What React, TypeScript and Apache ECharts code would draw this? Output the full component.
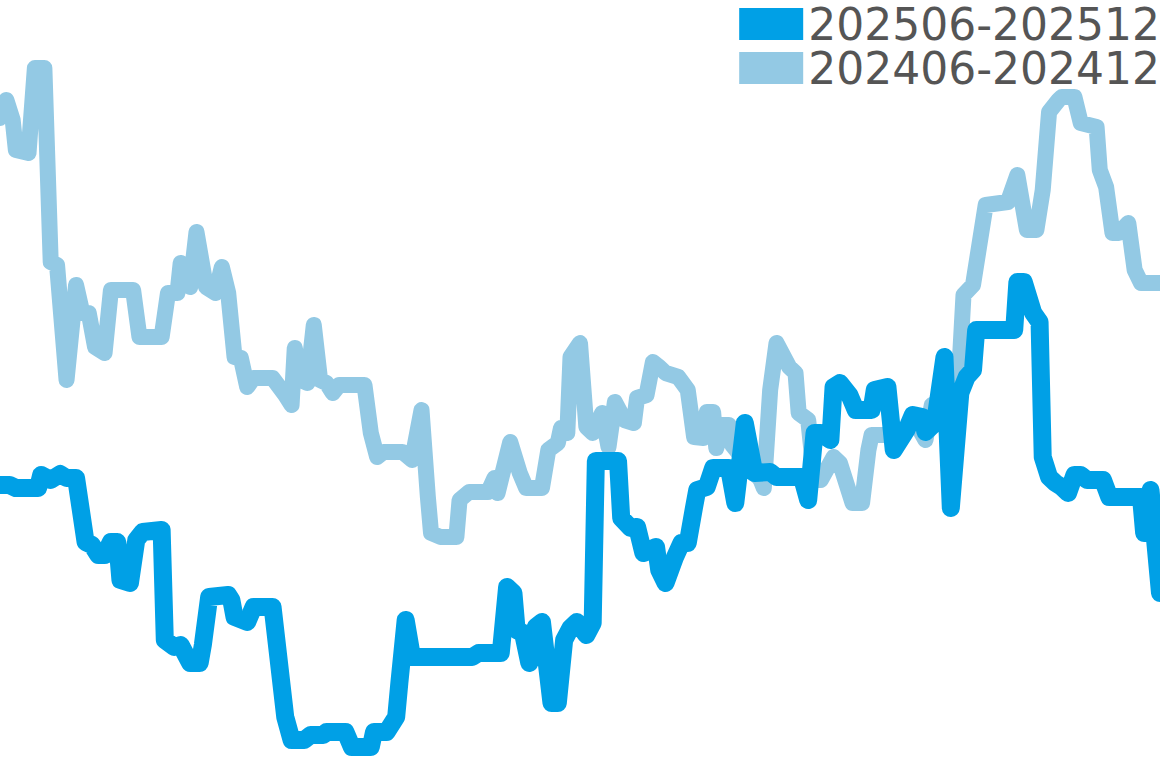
import React, { useEffect, useRef } from 'react';
import * as echarts from 'echarts';

// x = day position in the half-year window, y = index value
const series2025Name = '202506-202512';
const series2024Name = '202406-202412';

const days2025 = [
  0, 1.5, 2.5, 6, 6.5, 8, 9.5, 10.5, 12, 13.5, 14.5, 15.5, 16.5, 17.5, 18.5, 19, 20.5, 21.5, 22.5, 25.5,
  26, 27.5, 28.5, 30, 31.5, 32, 33, 36, 36.5, 37, 39, 40, 43, 45, 46, 48, 49, 51, 51.5, 54.5,
  55.5, 58.5, 59, 61, 62.5, 63, 64, 65, 74.5, 75.5, 79, 80, 81, 81.5, 82.5, 83.5, 84.5, 85.5, 87, 88,
  89, 90, 91, 92.5, 93.5, 94, 97.5, 98, 99.5, 100.5, 101.5, 103.5, 104, 105, 106.5, 107.5, 108.5, 109.5, 110, 111.5,
  112.5, 115, 116, 117.5, 119, 121.5, 122.5, 126.5, 127.5, 128.5, 129.5, 131, 131.5, 132.5, 134, 135, 137.5, 138, 140, 141,
  143, 144, 145.5, 146, 147.5, 149, 150, 151.5, 152.5, 153.5, 154, 160, 160.5, 161.5, 163, 164, 164.5, 165.5, 166.5, 167.5,
  168.5, 169.5, 170.5, 171.5, 174, 175, 180, 180.5, 181.5, 183
];
const values2025 = [
  283, 283, 280, 280, 293, 288, 294, 290, 290, 226, 223, 213, 213, 226, 226, 188, 185, 228, 236, 238,
  128, 121, 123, 105, 105, 123, 171, 173, 168, 151, 146, 161, 161, 51, 28, 28, 33, 33, 36, 36,
  21, 21, 36, 36, 51, 85, 148, 111, 111, 115, 115, 181, 175, 138, 135, 105, 141, 146, 65, 65,
  128, 140, 146, 133, 145, 307, 307, 250, 240, 241, 215, 221, 198, 185, 211, 225, 225, 261, 278, 281,
  300, 300, 265, 345, 295, 296, 291, 291, 268, 335, 335, 328, 381, 385, 373, 358, 358, 378, 381, 318,
  338, 353, 351, 336, 345, 411, 260, 375, 391, 398, 438, 438, 486, 486, 455, 446, 311, 291, 285, 281,
  275, 293, 293, 288, 288, 271, 271, 235, 278, 175
];

const days2024 = [
  0, 1, 2, 2.5, 4.5, 5.5, 7, 8, 9, 10.5, 12, 13, 14, 15, 16.5, 17.5, 21, 22, 25.5, 26.5,
  28, 28.5, 30, 31, 32.5, 34, 35, 36, 37, 38, 39, 40, 43, 45, 46, 46.5, 47.5, 48.5, 49.5, 50.5,
  51.5, 52.5, 53.5, 57.5, 58.5, 59.5, 60.5, 63.5, 65, 66.5, 67.5, 68, 69.5, 72, 72.5, 74, 77, 78, 78.5, 80.5,
  82, 83, 85.5, 86.5, 88, 88.5, 89.5, 90, 91.5, 92.5, 93.5, 95, 96, 97, 98.5, 100, 100.5, 102, 103, 104,
  105, 107, 108.5, 109.5, 111, 111.5, 112.5, 113, 114, 115, 115.5, 120, 120.5, 121.5, 122.5, 124.5, 125.5, 126, 127.5, 128.5,
  129.5, 131.5, 132.5, 134.5, 136, 137, 137.5, 140, 141.5, 143, 144.5, 146, 147, 149, 151, 152, 153.5, 154.5, 155.5, 159,
  160.5, 162, 163.5, 164.5, 165.5, 167, 167.5, 169.5, 170.5, 173, 173.5, 174.5, 175.5, 176.5, 178, 179, 180, 183
];
const values2024 = [
  650, 668, 648, 618, 615, 700, 700, 506, 503, 388, 483, 455, 455, 421, 415, 478, 478, 431, 431, 475,
  475, 505, 481, 536, 481, 475, 501, 475, 411, 410, 381, 390, 390, 373, 363, 420, 388, 385, 443, 388,
  385, 375, 383, 383, 335, 311, 316, 316, 308, 358, 271, 235, 231, 231, 268, 276, 276, 290, 275, 326,
  295, 280, 280, 318, 325, 340, 335, 411, 425, 341, 335, 355, 321, 366, 348, 345, 370, 373, 406, 401,
  395, 391, 378, 331, 330, 356, 356, 320, 343, 343, 323, 288, 280, 378, 425, 401, 395, 355, 348, 288,
  288, 311, 305, 265, 265, 318, 333, 333, 331, 338, 345, 328, 363, 358, 358, 473, 483, 523, 563, 566,
  593, 538, 538, 578, 656, 668, 671, 671, 645, 641, 598, 581, 535, 535, 545, 498, 485, 485
];

const color2025 = '#00a0e6';
const color2024 = '#93c9e4';

const pair = (xs: number[], ys: number[]) => xs.map((x, i) => [x, ys[i]]);

const App: React.FC = () => {
  const chartRef = useRef<HTMLDivElement>(null);

  useEffect(() => {
    if (!chartRef.current) return;
    const chart = echarts.init(chartRef.current, null, { renderer: 'svg' });

    const lineStyle = (color: string, width: number) => ({
      color,
      width,
      cap: 'round' as const,
      join: 'round' as const
    });

    chart.setOption({
      animation: false,
      backgroundColor: '#ffffff',
      grid: { left: 0, right: 0, top: 0, bottom: 0 },
      legend: {
        data: [series2025Name, series2024Name],
        orient: 'vertical',
        right: 0,
        top: 2,
        padding: 0,
        itemGap: 0,
        itemWidth: 64,
        itemHeight: 32,
        icon: 'rect',
        textStyle: {
          fontFamily: 'DejaVu Sans',
          fontSize: 44,
          lineHeight: 40,
          color: '#555555'
        }
      },
      xAxis: { type: 'value', min: 0, max: 183, show: false },
      yAxis: { type: 'value', min: 0, max: 768, show: false },
      series: [
        {
          name: series2024Name,
          type: 'line',
          showSymbol: false,
          symbol: 'none',
          color: color2024,
          lineStyle: lineStyle(color2024, 16),
          z: 2,
          data: pair(days2024, values2024)
        },
        {
          name: series2025Name,
          type: 'line',
          showSymbol: false,
          symbol: 'none',
          color: color2025,
          lineStyle: lineStyle(color2025, 18),
          z: 3,
          data: pair(days2025, values2025)
        }
      ]
    });

    return () => {
      chart.dispose();
    };
  }, []);

  return (
    <div
      ref={chartRef}
      style={{ position: 'absolute', left: 0, top: 0, width: '1160px', height: '768px' }}
    />
  );
};

export default App;
